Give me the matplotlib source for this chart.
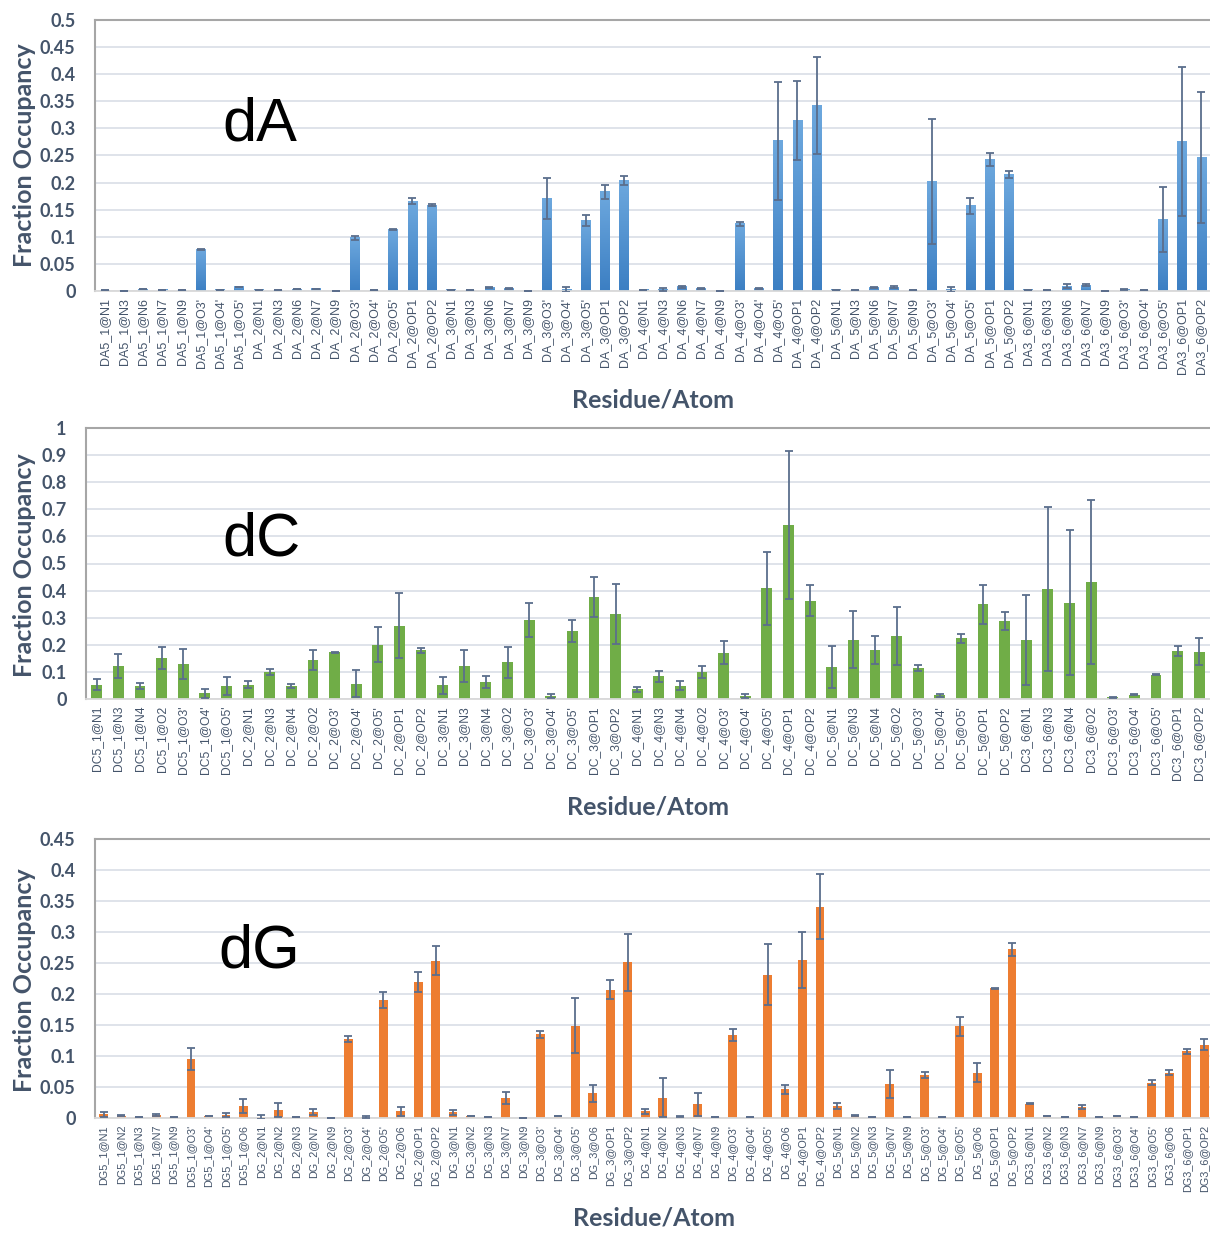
import numpy as np
import matplotlib
matplotlib.use("Agg")
import matplotlib.pyplot as plt
from matplotlib.ticker import MultipleLocator, FuncFormatter
from matplotlib.colors import LinearSegmentedColormap

# ---------------- data ----------------
atoms_A5 = ["N1", "N3", "N6", "N7", "N9", "O3'", "O4'", "O5'"]
atoms_A = ["N1", "N3", "N6", "N7", "N9", "O3'", "O4'", "O5'", "OP1", "OP2"]
dA_labels = ([f"DA5_1@{a}" for a in atoms_A5] +
             [f"DA_{r}@{a}" for r in (2, 3, 4, 5) for a in atoms_A] +
             [f"DA3_6@{a}" for a in atoms_A])
dA_values = [0.001, 0.0005, 0.003, 0.002, 0.001, 0.077, 0.002, 0.008,
             0.002, 0.001, 0.003, 0.004, 0.0, 0.098, 0.001, 0.114, 0.166, 0.158,
             0.002, 0.001, 0.006, 0.005, 0.0, 0.170, 0.003, 0.130, 0.183, 0.204,
             0.002, 0.003, 0.008, 0.005, 0.0, 0.124, 0.004, 0.277, 0.314, 0.342,
             0.002, 0.001, 0.007, 0.007, 0.001, 0.202, 0.003, 0.157, 0.242, 0.215,
             0.002, 0.001, 0.009, 0.011, 0.0, 0.003, 0.001, 0.132, 0.276, 0.246]
dA_errors = [0.0, 0.0, 0.0, 0.0, 0.0, 0.001, 0.0, 0.0,
             0.0, 0.0, 0.0, 0.0, 0.0, 0.003, 0.0, 0.001, 0.005, 0.002,
             0.0, 0.0, 0.001, 0.001, 0.0, 0.038, 0.004, 0.010, 0.013, 0.008,
             0.0, 0.003, 0.002, 0.001, 0.0, 0.004, 0.001, 0.109, 0.073, 0.089,
             0.0, 0.0, 0.001, 0.002, 0.0, 0.115, 0.004, 0.015, 0.012, 0.007,
             0.0, 0.0, 0.004, 0.002, 0.0, 0.001, 0.0, 0.060, 0.138, 0.121]

atoms_C5 = ["N1", "N3", "N4", "O2", "O3'", "O4'", "O5'"]
atoms_C = ["N1", "N3", "N4", "O2", "O3'", "O4'", "O5'", "OP1", "OP2"]
dC_labels = ([f"DC5_1@{a}" for a in atoms_C5] +
             [f"DC_{r}@{a}" for r in (2, 3, 4, 5) for a in atoms_C] +
             [f"DC3_6@{a}" for a in atoms_C])
dC_values = [0.053, 0.121, 0.048, 0.151, 0.129, 0.021, 0.048,
             0.053, 0.101, 0.048, 0.144, 0.172, 0.057, 0.200, 0.270, 0.180,
             0.050, 0.121, 0.063, 0.135, 0.293, 0.011, 0.251, 0.377, 0.315,
             0.036, 0.084, 0.049, 0.099, 0.171, 0.011, 0.408, 0.642, 0.363,
             0.118, 0.219, 0.181, 0.233, 0.115, 0.014, 0.224, 0.349, 0.287,
             0.217, 0.405, 0.355, 0.431, 0.007, 0.016, 0.090, 0.176, 0.174]
dC_errors = [0.020, 0.044, 0.012, 0.041, 0.055, 0.017, 0.033,
             0.013, 0.011, 0.007, 0.038, 0.003, 0.049, 0.064, 0.120, 0.010,
             0.030, 0.058, 0.022, 0.057, 0.063, 0.006, 0.040, 0.073, 0.111,
             0.010, 0.021, 0.016, 0.023, 0.042, 0.006, 0.134, 0.272, 0.058,
             0.077, 0.106, 0.051, 0.108, 0.012, 0.006, 0.016, 0.072, 0.034,
             0.167, 0.302, 0.268, 0.302, 0.002, 0.002, 0.003, 0.019, 0.050]

atoms_G5 = ["N1", "N2", "N3", "N7", "N9", "O3'", "O4'", "O5'", "O6"]
atoms_G = ["N1", "N2", "N3", "N7", "N9", "O3'", "O4'", "O5'", "O6", "OP1", "OP2"]
dG_labels = ([f"DG5_1@{a}" for a in atoms_G5] +
             [f"DG_{r}@{a}" for r in (2, 3, 4, 5) for a in atoms_G] +
             [f"DG3_6@{a}" for a in atoms_G])
dG_values = [0.006, 0.004, 0.001, 0.005, 0.001, 0.095, 0.003, 0.005, 0.019,
             0.002, 0.013, 0.002, 0.010, 0.0, 0.127, 0.002, 0.191, 0.011, 0.219, 0.254,
             0.009, 0.003, 0.001, 0.032, 0.0, 0.135, 0.003, 0.149, 0.040, 0.207, 0.251,
             0.011, 0.033, 0.002, 0.022, 0.001, 0.134, 0.001, 0.231, 0.046, 0.255, 0.341,
             0.019, 0.004, 0.001, 0.055, 0.001, 0.070, 0.001, 0.148, 0.073, 0.209, 0.272,
             0.023, 0.004, 0.001, 0.018, 0.001, 0.003, 0.001, 0.057, 0.073, 0.108, 0.118]
dG_errors = [0.004, 0.001, 0.0, 0.001, 0.0, 0.018, 0.0, 0.003, 0.011,
             0.003, 0.012, 0.0, 0.005, 0.0, 0.005, 0.002, 0.013, 0.007, 0.016, 0.023,
             0.004, 0.0, 0.0, 0.010, 0.0, 0.006, 0.0, 0.044, 0.014, 0.015, 0.046,
             0.004, 0.032, 0.001, 0.018, 0.0, 0.010, 0.0, 0.049, 0.007, 0.045, 0.053,
             0.005, 0.001, 0.0, 0.022, 0.0, 0.005, 0.0, 0.015, 0.015, 0.001, 0.010,
             0.001, 0.0, 0.0, 0.003, 0.0, 0.0, 0.0, 0.004, 0.004, 0.004, 0.009]

panels = [
    dict(name="dA", labels=dA_labels, values=dA_values, errors=dA_errors,
         color="#4A90D2", gradient=("#3C7FC3", "#6DA8DE"), ymax=0.5, step=0.05, xfs=9.0,
         box=(95, 20, 1211, 291), ylab_y=155, xlab_y=400, txt=(0.114, 0.557)),
    dict(name="dC", labels=dC_labels, values=dC_values, errors=dC_errors,
         color="#70AD47", gradient=None, ymax=1.0, step=0.1, xfs=8.7,
         box=(86, 428, 1210, 699), ylab_y=565, xlab_y=807, txt=(0.121, 0.531)),
    dict(name="dG", labels=dG_labels, values=dG_values, errors=dG_errors,
         color="#ED7D31", gradient=None, ymax=0.45, step=0.05, xfs=7.8,
         box=(95, 839, 1213, 1118), ylab_y=980, xlab_y=1218, txt=(0.110, 0.541)),
]

W, H = 1210, 1233
fig = plt.figure(figsize=(W / 100, H / 100), dpi=100)

slate = "#44546A"
err_col = "#5B6E8C"

for p in panels:
    x0, y0, x1, y1 = p["box"]
    ax = fig.add_axes([x0 / W, 1 - y1 / H, (x1 - x0) / W, (y1 - y0) / H])
    n = len(p["labels"])
    xs = np.arange(n)
    bars = ax.bar(xs, p["values"], width=0.5, color=p["color"], zorder=2)
    if p["gradient"] is not None:
        cmap = LinearSegmentedColormap.from_list("g", list(p["gradient"]))
        grad = np.linspace(0, 1, 64).reshape(-1, 1)
        for b in bars:
            h = b.get_height()
            if h <= 0:
                continue
            bx = b.get_x()
            bw = b.get_width()
            ax.imshow(grad, extent=[bx, bx + bw, 0, h], origin="lower",
                      aspect="auto", cmap=cmap, zorder=2.1, interpolation="bilinear")
    ax.errorbar(xs, p["values"], yerr=p["errors"], fmt="none", ecolor=err_col,
                elinewidth=1.3, capsize=3, capthick=1.3, zorder=3)
    ax.set_xlim(-0.5, n - 0.5)
    ax.set_ylim(0, p["ymax"])
    ax.set_aspect("auto")
    ax.yaxis.set_major_locator(MultipleLocator(p["step"]))
    ax.yaxis.set_major_formatter(FuncFormatter(lambda v, pos: "{:g}".format(round(v, 3))))
    ax.grid(axis="y", color="#DCE1E8", linewidth=1.3, zorder=0)
    ax.set_axisbelow(True)
    ax.set_xticks(xs)
    ax.set_xticklabels(p["labels"], rotation=90, fontsize=p["xfs"],
                       family="Liberation Sans", color=slate)
    for lab in ax.get_yticklabels():
        lab.set_fontfamily("Lato")
        lab.set_fontweight("bold")
        lab.set_fontsize(13)
        lab.set_color(slate)
    ax.tick_params(axis="both", length=0)
    ax.tick_params(axis="y", pad=14)
    ax.tick_params(axis="x", pad=5)
    for s in ("left", "top"):
        ax.spines[s].set_color("#A6A6A6")
        ax.spines[s].set_linewidth(1.5)
    ax.spines["right"].set_visible(False)
    ax.spines["bottom"].set_color("#D9D9D9")
    ax.spines["bottom"].set_linewidth(1.3)
    ax.text(p["txt"][0], p["txt"][1], p["name"], transform=ax.transAxes,
            fontsize=44, family="Liberation Sans", color="black",
            ha="left", va="baseline")
    fig.text(25 / W, 1 - p["ylab_y"] / H, "Fraction Occupancy", rotation=90,
             ha="center", va="center", fontsize=18, family="Lato",
             fontweight="bold", color=slate)
    fig.text((x0 + x1) / 2 / W, 1 - p["xlab_y"] / H, "Residue/Atom",
             ha="center", va="center", fontsize=18, family="Lato",
             fontweight="bold", color=slate)

fig.savefig("out.png", dpi=100)
